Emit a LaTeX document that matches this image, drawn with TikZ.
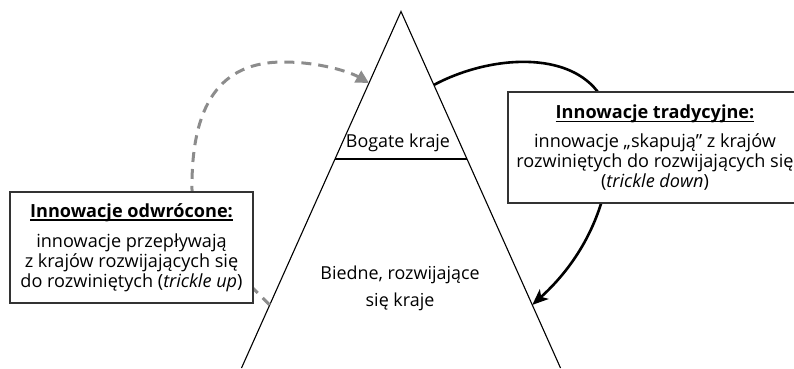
\documentclass[tikz,border=0pt]{standalone}
\usepackage{fontspec}
\setmainfont{Open Sans}
\newcommand\myul[1]{\setbox0\hbox{#1}\leavevmode\rlap{\rule[-3.5pt]{\wd0}{1.3pt}}\box0}
\usetikzlibrary{arrows.meta,calc}
\begin{document}
\begin{tikzpicture}[x=1pt,y=-1pt,
  textbox/.style={draw=black!80, line width=1.2pt, fill=white, align=center, inner sep=0pt,
    font=\fontsize{18.1}{20}\selectfont},
  pyrtext/.style={align=center, font=\fontsize{17.9}{27}\selectfont},
  pyrline/.style={line width=1.1pt, black},
  tradarrow/.style={line width=2.6pt, black, -{Stealth[length=16pt,width=13pt,inset=4pt]}},
  revarrow/.style={draw=black!45, line width=3pt, dash pattern=on 10pt off 7pt,
    -{Triangle[length=13pt,width=13pt]}}]
\useasboundingbox (0,0) rectangle (794,368);
% pyramid
\coordinate (apex) at (401,11.5);
\coordinate (bl) at (241.5,368);
\coordinate (br) at (560.5,368);
\coordinate (ml) at ($(apex)!0.4137!(bl)$);
\coordinate (mr) at ($(apex)!0.4137!(br)$);
\coordinate (revtip) at ($(apex)!0.2006!(bl)$);
\coordinate (revstart) at ($(apex)!0.823!(bl)$);
\coordinate (tradstart) at ($(apex)!0.206!(br)$);
\coordinate (tradtip) at ($(apex)!0.823!(br)$);
\draw[pyrline] (bl) -- (apex) -- (br);
\draw[pyrline] (ml) -- (mr);
% connectors
\draw[tradarrow] (tradstart) .. controls (490,55) and (570,50) .. (600,95)
  .. controls (620,135) and (615,230) .. (tradtip);
\draw[revarrow] (revstart) .. controls (235,270) and (192,230) .. (192,190)
  .. controls (191,105) and (220,62) .. (283,62)
  .. controls (320,62) and (350,72) .. (revtip);
% boxes
\node[textbox, minimum width=243pt, minimum height=111pt] (rev) at (131.5,247.5)
  {\textbf{\myul{Innowacje odwrócone:}}\\[10pt]
   innowacje przepływają\\ z krajów rozwijających się\\ do rozwiniętych (\textit{trickle up})};
\node[textbox, minimum width=294pt, minimum height=111pt] (trad) at (655,147.5)
  {\textbf{\myul{Innowacje tradycyjne:}}\\[9pt]
   innowacje „skapują” z krajów\\ rozwiniętych do rozwijających się\\ (\textit{trickle down})};
\node[pyrtext] (rich) at (398,143) {Bogate kraje};
\node[pyrtext] (poor) at (400,288.5) {Biedne, rozwijające\\ się kraje};
\end{tikzpicture}
\end{document}
